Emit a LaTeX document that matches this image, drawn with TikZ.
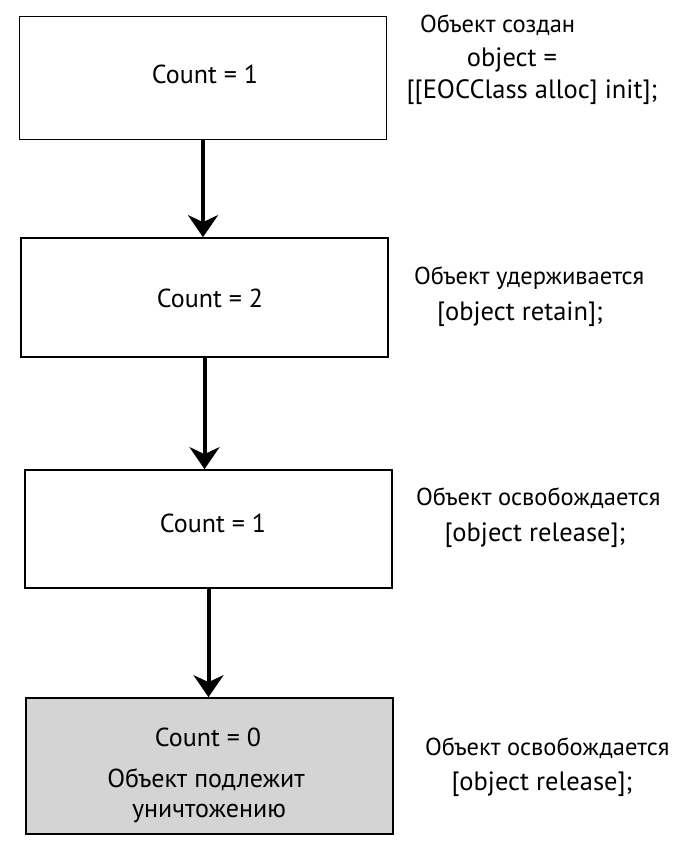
\documentclass[tikz,border=0pt]{standalone}
\usepackage{fontspec}
\setmainfont{PT Sans}
\usetikzlibrary{arrows.meta}
\begin{document}
\begin{tikzpicture}[x=1pt,y=-1pt,
  box/.style={draw=black, line width=1.7pt, minimum width=367pt, inner sep=0pt},
  txt/.style={font=\fontsize{26}{30}\selectfont, inner sep=0pt},
  note/.style={font=\fontsize{24.5}{30}\selectfont, inner sep=0pt, anchor=west},
  code/.style={font=\fontsize{26.5}{30}\selectfont, inner sep=0pt},
  flow/.style={line width=4pt, -{Stealth[length=22pt,width=30pt,inset=7pt]}},
]
% page
\fill[white] (0,0) rectangle (688,843);
\useasboundingbox (0,0) rectangle (688,843);

% state boxes
\node[box, minimum height=123pt] (b1) at (203,78) {};
\node[box, minimum height=119pt] (b2) at (204.5,297.5) {};
\node[box, minimum height=118pt] (b3) at (208.5,529) {};
\node[box, minimum height=136pt, fill=black!17] (b4) at (209.5,766) {};

% counters
\node[txt] (c1) at (205,74) {Count = 1};
\node[txt] (c2) at (210,298) {Count = 2};
\node[txt] (c3) at (213,523) {Count = 1};
\node[txt] (c4) at (208,737) {Count = 0};
\node[txt] (d4a) at (206,780) {Объект подлежит};
\node[txt] (d4b) at (209,813) {уничтожению};

% transitions
\draw[flow] (b1.south) -- (b1.south |- b2.north);
\draw[flow] (b2.south) -- (b2.south |- b3.north);
\draw[flow] (b3.south) -- (b3.south |- b4.north);

% operations
\node[note] (e1) at (420,25) {Объект создан};
\node[code] (e1b) at (512,60) {object =};
\node[code] (e1c) at (532,92) {[[EOCClass alloc] init];};

\node[note] (e2) at (414,278) {Объект удерживается};
\node[code] (e2b) at (520,314) {[object retain];};

\node[note] (e3) at (416,498) {Объект освобождается};
\node[code] (e3b) at (535,535) {[object release];};

\node[note] (e4) at (425,748) {Объект освобождается};
\node[code] (e4b) at (542,784) {[object release];};
\end{tikzpicture}
\end{document}
